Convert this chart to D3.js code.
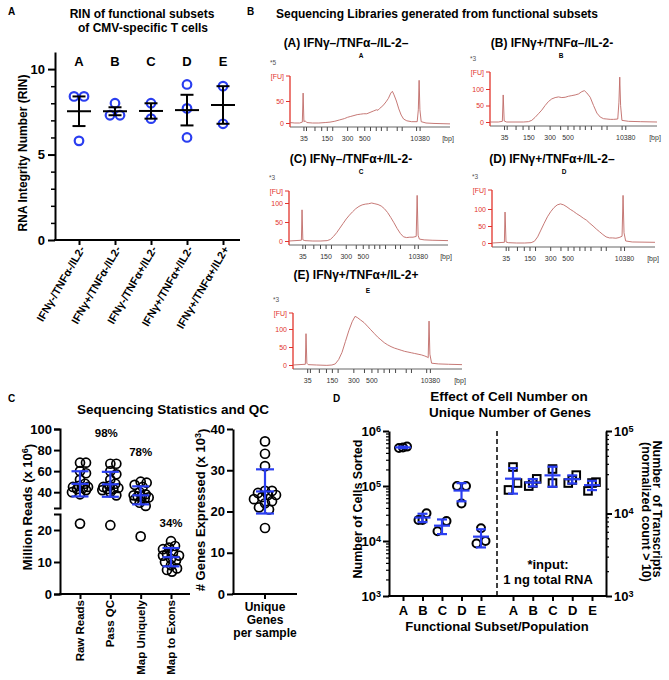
<!DOCTYPE html>
<html><head><meta charset="utf-8">
<script src="https://cdn.jsdelivr.net/npm/d3@7"></script>
<style>body{margin:0;background:#fff}svg{display:block}</style>
</head><body>
<svg id="c" width="669" height="680"></svg>
<script>
// ---------------- DATA ----------------
// Panel A
const rinCategories = ["IFNγ-/TNFα-/IL2-", "IFNγ+/TNFα-/IL2-", "IFNγ-/TNFα+/IL2-", "IFNγ+/TNFα+/IL2-", "IFNγ+/TNFα+/IL2+"];
const subsetLetters = ["A", "B", "C", "D", "E"];
const rinValues = [[8.4, 8.4, 5.8], [8.0, 7.3, 7.3], [8.0, 7.1], [9.1, 7.7, 6.0], [9.0, 6.8]];
const rinTicks = [0, 5, 10];

// Panel B (electropherograms): [migration position, FU]
const ladderBp = [35, 50, 75, 100, 150, 200, 300, 400, 500, 600, 700, 1000, 1500, 2000, 3000, 7000, 10380];
const ladderTime = [8.4, 10, 15.3, 19.5, 23, 26.4, 35.7, 42, 46.4, 50, 53.6, 56.8, 60.4, 66.7, 69.8, 78.8, 81];
const ladderLabeled = [35, 150, 300, 500, 10380];
const epTitles = ["(A) IFNγ–/TNFα–/IL-2–", "(B) IFNγ+/TNFα–/IL-2-", "(C) IFNγ–/TNFα+/IL-2-", "(D) IFNγ+/TNFα+/IL-2–", "(E) IFNγ+/TNFα+/IL-2+"];
const epMultipliers = ["*5", "*3", "*3", "*3", "*3"];
const traceA = [[0,1],[3,0],[6,0],[7.7,2],[8.2,68],[8.7,3],[9.5,5],[10.5,1],[14,0],[18,0],[22,1],[25,2],[28,4],[31,7],[34,10],[36,13],[38,15],[40,17],[42,19],[44,20],[46,21],[48,21],[50,24],[52,27],[54,30],[55,29],[56,33],[58,39],[60,48],[61.5,56],[63,68],[64,72],[65,64],[66.5,50],[68,32],[69.5,18],[71,9],[73,5],[76,3],[79.5,3],[80.2,30],[80.7,97],[81.2,30],[82,3],[85,0],[90,-1],[100,-2]];
const traceB = [[0,0],[5,0],[7.4,2],[7.9,82],[8.5,3],[10,0],[15,0],[20,0],[23,1],[25,5],[27,14],[29,25],[31,36],[33,50],[35,62],[37,70],[39,74],[41,76],[43,74],[45,75],[47,78],[49,80],[51,82],[53,85],[55,92],[56.5,95],[58,88],[60,75],[62,50],[64,27],[66,15],[68,10],[70,9],[72,8],[74,8],[76.5,9],[77.2,60],[77.7,136],[78.2,50],[79,5],[83,2],[90,1],[100,0]];
const traceC = [[0,0],[7.8,2],[8.2,82],[8.7,3],[10,1],[15,0],[20,0],[24,1],[26,4],[28,12],[30,22],[32,34],[34,46],[36,58],[38,68],[40,77],[42,85],[44,91],[46,95],[48,97],[50,98],[52,100],[54,98],[56,96],[58,92],[60,85],[62,75],[64,62],[66,48],[68,33],[70,20],[72,11],[74,9],[76,10],[78,10],[80,12],[80.6,120],[81.2,15],[82,5],[85,3],[90,2],[100,1]];
const traceD = [[0,0],[7.6,2],[8,91],[8.6,3],[10,1],[15,0],[20,0],[24,1],[26,5],[28,18],[30,38],[32,58],[34,77],[36,92],[38,104],[40,112],[42,115],[44,112],[46,106],[48,99],[50,93],[52,86],[54,80],[56,73],[58,67],[60,58],[62,50],[64,41],[66,33],[68,25],[70,18],[72,15],[74,15],[76,14],[78,16],[79.8,20],[80.4,140],[81,30],[82,6],[86,3],[100,2]];
const traceE = [[0,0],[7.3,2],[7.7,87],[8.2,5],[9,1],[14,0],[20,-1],[23,0],[25,3],[27,15],[29,35],[31,65],[33,95],[35,120],[36.7,135],[38,132],[40,125],[42,118],[44,108],[46,98],[48,88],[50,78],[52,70],[54,62],[56,56],[58,51],[60,47],[62,44],[64,41],[66,38],[68,36],[70,34],[72,32],[74,30],[76,28],[78,25],[79.5,22],[80,20],[80.5,122],[81,30],[82,5],[86,3],[92,2],[100,1]];
const epTraces = [traceA, traceB, traceC, traceD, traceE];

// Panel C
const qcCategories = ["Raw Reads", "Pass QC", "Map Uniquely", "Map to Exons"];
const rawReads = [68, 68, 60, 58, 52, 48, 46, 45, 45, 44, 43, 42, 40, 38, 22];
const passQC = [67, 67, 60, 57, 52, 48, 46, 45, 44, 43, 43, 42, 40, 37, 21.5];
const mapUniquely = [50, 49, 47, 45, 40, 38, 37, 36, 36, 35, 34, 33, 30, 27, 18];
const mapExons = [16.5, 15, 14.5, 14, 13, 12.5, 12, 12, 11, 10.5, 10, 9, 8, 7.5, 7];
const qcPercents = ["", "98%", "78%", "34%"];
const qcUpperTicks = [40, 60, 80, 100];
const qcLowerTicks = [0, 10, 20];
const genesCategory = ["Unique Genes per sample"];
const genesExpressed = [37, 34, 31, 25, 25, 24.5, 24, 24, 23.5, 23, 22.5, 22, 21, 20.5, 16];
const genesTicks = [0, 10, 20, 30, 40];

// Panel D
const cellsSorted = [[520000, 500000, 490000], [32000, 24000, 24000], [23000, 15000], [100000, 100000, 48000], [17000, 10000, 9000]];
const transcripts = [[36600, 23400, 19300], [26300, 23400, 21500], [34600, 23400], [29200, 25500, 23400], [24000, 23400, 18800]];
const cellTicks = [1e3, 1e4, 1e5, 1e6];
const transcriptTicks = [1e3, 1e4, 1e5];

// ---------------- HELPERS ----------------
const F = '"Liberation Sans", Arial, Helvetica, sans-serif';
const BLUE = "#2a3ef0";
const svg = d3.select("#c").attr("font-family", F);
svg.append("rect").attr("width", 669).attr("height", 680).attr("fill", "#fff");

function txt(g, x, y, s, o = {}) {
  const t = g.append("text").attr("x", x).attr("y", y).text(s)
    .attr("font-size", o.size || 12).attr("font-weight", o.weight || "bold")
    .attr("text-anchor", o.anchor || "middle").attr("fill", o.fill || "#000");
  if (o.transform) t.attr("transform", o.transform);
  return t;
}
function styleAxis(g, o = {}) {
  g.attr("font-family", F);
  g.selectAll("path,line").attr("stroke", o.color || "#000").attr("stroke-width", o.sw || 2);
  g.selectAll("text").attr("font-size", o.size || 13).attr("font-weight", o.weight || "bold").attr("fill", o.tcolor || "#000");
}
function rowsLayout(vals, yFn, thr, spFn) {
  const pts = vals.map(v => ({ v, y: yFn(v) })).sort((a, b) => a.y - b.y);
  const out = []; let row = [];
  function flush() {
    row.sort((a, b) => a.v - b.v);
    const sp = spFn(row.length);
    row.forEach((p, i) => { p.x = (i - (row.length - 1) / 2) * sp; out.push(p); });
    row = [];
  }
  pts.forEach(p => { if (row.length && p.y - row[0].y >= thr) flush(); row.push(p); });
  flush();
  return out;
}
// compact beeswarm limited to +/- maxOff
function swarm(vals, yFn, D, step, maxOff) {
  const pts = vals.map(v => ({ v, y: yFn(v) })).sort((a, b) => a.y - b.y);
  const placed = [];
  const cands = [0];
  for (let k = step; k <= maxOff + 1e-9; k += step) { cands.push(k, -k); }
  for (const p of pts) {
    let best = null, bestD = -1;
    for (const off of cands) {
      const md = placed.length ? d3.min(placed, q => Math.hypot(q.x - off, q.y - p.y)) : Infinity;
      if (md >= D) { best = off; break; }
      if (md > bestD) { bestD = md; best = off; }
    }
    p.x = best;
    placed.push(p);
  }
  return pts;
}
function errBar(g, cx, lo, mid, hi, capW, meanW, color, sw) {
  g.append("line").attr("x1", cx).attr("x2", cx).attr("y1", lo).attr("y2", hi).attr("stroke", color).attr("stroke-width", sw);
  [lo, hi].forEach(y => g.append("line").attr("x1", cx - capW / 2).attr("x2", cx + capW / 2).attr("y1", y).attr("y2", y).attr("stroke", color).attr("stroke-width", sw));
  g.append("line").attr("x1", cx - meanW / 2).attr("x2", cx + meanW / 2).attr("y1", mid).attr("y2", mid).attr("stroke", color).attr("stroke-width", sw);
}
function supText(t, base, exp, after) {
  t.text(null);
  t.append("tspan").text(base);
  t.append("tspan").attr("dy", "-0.45em").attr("font-size", "0.7em").text(exp);
  if (after) t.append("tspan").attr("dy", "0.45em").text(after);
}

// ---------------- PANEL LETTERS ----------------
txt(svg, 8, 15, "A", { size: 10, anchor: "start" });
txt(svg, 247, 15, "B", { size: 10, anchor: "start" });
txt(svg, 8, 402, "C", { size: 10, anchor: "start" });
txt(svg, 333, 402, "D", { size: 10, anchor: "start" });

// ---------------- PANEL A ----------------
{
  const g = svg.append("g");
  txt(g, 142, 18, "RIN of functional subsets", { size: 12 });
  txt(g, 143, 32, "of CMV-specific T cells", { size: 12 });
  const y = d3.scaleLinear([0, 11], [240, 52]);
  const x = d3.scalePoint(rinCategories, [79, 223]);
  const gyMinor = g.append("g").attr("transform", "translate(55,0)")
    .call(d3.axisLeft(y).tickValues(d3.range(1, 11).filter(v => v % 5)).tickSize(4).tickFormat(""));
  gyMinor.select(".domain").remove(); styleAxis(gyMinor, { sw: 1.5 });
  const gy = g.append("g").attr("transform", "translate(55,0)")
    .call(d3.axisLeft(y).tickValues(rinTicks).tickSize(7).tickSizeOuter(0).tickPadding(3));
  styleAxis(gy, { size: 13 });
  const gx = g.append("g").attr("transform", "translate(0,240)")
    .call(d3.axisBottom(x).tickSize(5).tickFormat(""));
  gx.select(".domain").remove(); styleAxis(gx);
  g.append("line").attr("x1", 54).attr("x2", 240).attr("y1", 240).attr("y2", 240).attr("stroke", "#000").attr("stroke-width", 2);
  rinCategories.forEach((c, i) => {
    txt(g, 0, 0, c, { size: 11, anchor: "end", transform: `translate(${x(c) + 3},${247}) rotate(-60)` }).attr("dy", "0.35em");
    txt(g, x(c), 66, subsetLetters[i], { size: 13 });
    const pts = rowsLayout(rinValues[i], y, 10, () => 10);
    g.selectAll(null).data(pts).join("circle").attr("cx", p => x(c) + p.x).attr("cy", p => p.y).attr("r", 4.3)
      .attr("fill", "none").attr("stroke", BLUE).attr("stroke-width", 2.2);
    const m = d3.mean(rinValues[i]), sem = d3.deviation(rinValues[i]) / Math.sqrt(rinValues[i].length);
    errBar(g, x(c), y(m - sem), y(m), y(m + sem), 13, 24, "#000", 2);
  });
  txt(g, 0, 0, "RNA Integrity Number (RIN)", { size: 12, transform: "translate(27,153) rotate(-90)" });
}

// ---------------- PANEL B ----------------
const epLayout = [
  { x0: 290, x1: 450, y0: 123, refVal: 50, yRef: 101, top: 76, ticks: [0, 50], sx: 346, sy: 47, lx: 361, ly: 58 },
  { x0: 490, x1: 657, y0: 122, refVal: 100, yRef: 89, top: 72, ticks: [0, 50, 100], sx: 552, sy: 47, lx: 561, ly: 58 },
  { x0: 289, x1: 448, y0: 241, refVal: 100, yRef: 203, top: 191, ticks: [0, 50, 100], sx: 351, sy: 163, lx: 361, ly: 174 },
  { x0: 492, x1: 655, y0: 243, refVal: 100, yRef: 209, top: 190, ticks: [0, 50, 100], sx: 552, sy: 163, lx: 564, ly: 174 },
  { x0: 293, x1: 462, y0: 365, refVal: 100, yRef: 329, top: 313, ticks: [0, 50, 100], sx: 356, sy: 279, lx: 368, ly: 293 }
];
txt(svg, 437, 18, "Sequencing Libraries generated from functional subsets", { size: 12 });
const RED = "#e2332b", TRACE = "#c06a66";
epLayout.forEach((L, i) => {
  const g = svg.append("g");
  const x = d3.scaleLinear([0, 100], [L.x0, L.x1]);
  const y = d3.scaleLinear([0, L.refVal], [L.y0, L.yRef]);
  const axY = L.y0 + 4;
  const gx = g.append("g").attr("transform", `translate(0,${axY})`)
    .call(d3.axisBottom(x).tickValues(ladderTime).tickSize(4).tickPadding(5)
      .tickFormat((d, j) => ladderLabeled.includes(ladderBp[j]) ? ladderBp[j] : ""));
  gx.select(".domain").remove();
  styleAxis(gx, { color: "#333", sw: 0.9, size: 7, weight: "normal", tcolor: "#333" });
  g.append("line").attr("x1", L.x0).attr("x2", L.x1).attr("y1", axY).attr("y2", axY).attr("stroke", "#555").attr("stroke-width", 0.9);
  txt(g, L.x1 - 2, axY + 14, "[bp]", { size: 7, weight: "normal", fill: "#333" });
  const gy = g.append("g").attr("transform", `translate(${L.x0},0)`)
    .call(d3.axisLeft(y).tickValues(L.ticks).tickSize(4).tickPadding(2));
  gy.select(".domain").remove();
  styleAxis(gy, { color: RED, sw: 1, size: 7, weight: "normal", tcolor: RED });
  g.append("line").attr("x1", L.x0).attr("x2", L.x0).attr("y1", L.top).attr("y2", axY).attr("stroke", RED).attr("stroke-width", 1.3);
  g.append("line").attr("x1", L.x0 - 4).attr("x2", L.x0).attr("y1", L.top).attr("y2", L.top).attr("stroke", RED).attr("stroke-width", 1);
  txt(g, L.x0 - 6, L.top + 2.5, "[FU]", { size: 7, weight: "normal", anchor: "end", fill: RED });
  txt(g, L.x0 - 20, L.top - 11, epMultipliers[i], { size: 6.5, weight: "normal", anchor: "start", fill: "#555" });
  g.append("path").datum(epTraces[i])
    .attr("d", d3.line().x(d => x(d[0])).y(d => y(d[1])))
    .attr("fill", "none").attr("stroke", TRACE).attr("stroke-width", 0.9);
  txt(g, L.sx, L.sy, epTitles[i], { size: 12 });
  txt(g, L.lx, L.ly, subsetLetters[i], { size: 6.5 });
});

// ---------------- PANEL C ----------------
{
  const g = svg.append("g");
  txt(g, 173, 414, "Sequencing Statistics and QC", { size: 13.5 });
  const x = d3.scalePoint(qcCategories, [80, 171]);
  const yU = d3.scaleLinear([25, 100], [508, 429]);
  const yL = d3.scaleLinear([0, 25], [594, 514]);
  const yC = v => v >= 25 ? yU(v) : yL(v);
  const gU = g.append("g").attr("transform", "translate(60,0)")
    .call(d3.axisLeft(yU).tickValues(qcUpperTicks).tickSize(6).tickSizeOuter(6).tickPadding(2));
  styleAxis(gU, { size: 13 });
  const gL = g.append("g").attr("transform", "translate(60,0)")
    .call(d3.axisLeft(yL).tickValues(qcLowerTicks).tickSize(6).tickSizeOuter(6).tickPadding(2));
  styleAxis(gL, { size: 13 });
  const gx = g.append("g").attr("transform", "translate(0,594)").call(d3.axisBottom(x).tickSize(5).tickFormat(""));
  gx.select(".domain").remove(); styleAxis(gx);
  g.append("line").attr("x1", 59).attr("x2", 190).attr("y1", 594).attr("y2", 594).attr("stroke", "#000").attr("stroke-width", 2);
  const series = [rawReads, passQC, mapUniquely, mapExons];
  qcCategories.forEach((c, i) => {
    const pts = swarm(series[i], yC, 6, 1, 8);
    g.selectAll(null).data(pts).join("circle").attr("cx", p => x(c) + p.x).attr("cy", p => p.y).attr("r", 4.5)
      .attr("fill", "none").attr("stroke", "#000").attr("stroke-width", 1.7);
    const m = d3.mean(series[i]), sd = d3.deviation(series[i]);
    errBar(g, x(c), yC(m - sd), yC(m), yC(m + sd), 17, 17, BLUE, 2.2);
    txt(g, 0, 0, c, { size: 11.5, anchor: "end", transform: `translate(${x(c) + 4},${600}) rotate(-90)` });
  });
  const pctY = [0, 437, 456, 527];
  qcPercents.forEach((p, i) => { if (p) txt(g, x(qcCategories[i]) - (i === 1 ? 4 : 0), pctY[i], p, { size: 11.5 }); });
  supText(txt(g, 0, 0, "", { size: 13, transform: "translate(32,507) rotate(-90)" }), "Million Reads (x 10", "6", ")");

  // genes
  const yG = d3.scaleLinear([0, 40], [594, 429]);
  const xG = d3.scaleBand(genesCategory, [233, 297]);
  const gy2 = g.append("g").attr("transform", "translate(233,0)")
    .call(d3.axisLeft(yG).tickValues(genesTicks).tickSize(6).tickSizeOuter(0).tickPadding(2));
  styleAxis(gy2, { size: 13 });
  const gx2 = g.append("g").attr("transform", "translate(0,594)").call(d3.axisBottom(xG).tickSize(5).tickFormat(""));
  gx2.select(".domain").remove(); styleAxis(gx2);
  g.append("line").attr("x1", 232).attr("x2", 297).attr("y1", 594).attr("y2", 594).attr("stroke", "#000").attr("stroke-width", 2);
  const cx = xG(genesCategory[0]) + xG.bandwidth() / 2;
  const gp = swarm(genesExpressed, yG, 7, 1, 11);
  g.selectAll(null).data(gp).join("circle").attr("cx", p => cx + p.x).attr("cy", p => p.y).attr("r", 4.5)
    .attr("fill", "none").attr("stroke", "#000").attr("stroke-width", 1.7);
  const gm = d3.mean(genesExpressed), gsd = d3.deviation(genesExpressed);
  errBar(g, cx, yG(gm - gsd), yG(gm), yG(gm + gsd), 18, 18, BLUE, 2.2);
  ["Unique", "Genes", "per sample"].forEach((w, i) => txt(g, cx, 611 + i * 13, w, { size: 12 }));
  supText(txt(g, 0, 0, "", { size: 13, transform: "translate(205,510) rotate(-90)" }), "# Genes Expressed (x 10", "3", ")");
}

// ---------------- PANEL D ----------------
{
  const g = svg.append("g");
  txt(g, 509, 401, "Effect of Cell Number on", { size: 13.5 });
  txt(g, 510, 417, "Unique Number of Genes", { size: 13.5 });
  const yL = d3.scaleLog([1e3, 1e6], [596, 431]);
  const yR = d3.scaleLog([1e3, 1e5], [596, 431]);
  const xL = d3.scalePoint(subsetLetters, [403, 481]);
  const xR = d3.scalePoint(subsetLetters, [513, 592]);
  const minorL = yL.ticks().filter(v => !cellTicks.includes(v));
  const minorR = yR.ticks().filter(v => !transcriptTicks.includes(v));
  const gmL = g.append("g").attr("transform", "translate(389,0)").call(d3.axisLeft(yL).tickValues(minorL).tickSize(3).tickFormat(""));
  gmL.select(".domain").remove(); styleAxis(gmL, { sw: 1.2 });
  const gL = g.append("g").attr("transform", "translate(389,0)").call(d3.axisLeft(yL).tickValues(cellTicks).tickSize(6).tickSizeOuter(0).tickPadding(2));
  styleAxis(gL, { size: 13 });
  gL.selectAll(".tick text").each(function (d) { supText(d3.select(this), "10", Math.round(Math.log10(d))); });
  const gmR = g.append("g").attr("transform", "translate(606,0)").call(d3.axisRight(yR).tickValues(minorR).tickSize(3).tickFormat(""));
  gmR.select(".domain").remove(); styleAxis(gmR, { sw: 1.2 });
  const gR = g.append("g").attr("transform", "translate(606,0)").call(d3.axisRight(yR).tickValues(transcriptTicks).tickSize(6).tickSizeOuter(0).tickPadding(2));
  styleAxis(gR, { size: 13 });
  gR.selectAll(".tick text").each(function (d) { supText(d3.select(this), "10", Math.round(Math.log10(d))); });
  const gxl = g.append("g").attr("transform", "translate(0,596)").call(d3.axisBottom(xL).tickSize(5).tickPadding(5));
  gxl.select(".domain").remove(); styleAxis(gxl, { size: 13 });
  const gxr = g.append("g").attr("transform", "translate(0,596)").call(d3.axisBottom(xR).tickSize(5).tickPadding(5));
  gxr.select(".domain").remove(); styleAxis(gxr, { size: 13 });
  g.append("line").attr("x1", 388).attr("x2", 607).attr("y1", 596).attr("y2", 596).attr("stroke", "#000").attr("stroke-width", 2);
  g.append("line").attr("x1", 497).attr("x2", 497).attr("y1", 431).attr("y2", 596).attr("stroke", "#000").attr("stroke-width", 1.5).attr("stroke-dasharray", "5,3");
  const sp = n => n >= 3 ? 4 : 9;
  subsetLetters.forEach((c, i) => {
    const pts = rowsLayout(cellsSorted[i], yL, 12, sp);
    g.selectAll(null).data(pts).join("circle").attr("cx", p => xL(c) + p.x).attr("cy", p => p.y).attr("r", 4)
      .attr("fill", "none").attr("stroke", "#000").attr("stroke-width", 2);
    const m = d3.mean(cellsSorted[i]), sd = d3.deviation(cellsSorted[i]);
    errBar(g, xL(c), yL(m - sd), yL(m), yL(m + sd), 10, 16, BLUE, 2.2);
    const sq = rowsLayout(transcripts[i], yR, 12, sp);
    g.selectAll(null).data(sq).join("rect").attr("x", p => xR(c) + p.x - 3.8).attr("y", p => p.y - 3.8)
      .attr("width", 7.6).attr("height", 7.6).attr("fill", "none").attr("stroke", "#000").attr("stroke-width", 2);
    const m2 = d3.mean(transcripts[i]), sd2 = d3.deviation(transcripts[i]);
    errBar(g, xR(c), yR(m2 - sd2), yR(m2), yR(m2 + sd2), 10, 16, BLUE, 2.2);
  });
  txt(g, 548, 569, "*input:", { size: 13 });
  txt(g, 548, 584, "1 ng total RNA", { size: 13 });
  txt(g, 497, 631, "Functional Subset/Population", { size: 13 });
  txt(g, 0, 0, "Number of Cells Sorted", { size: 12.5, transform: "translate(362,509) rotate(-90)" });
  txt(g, 0, 0, "Number  of Transcripts", { size: 12.5, transform: "translate(653,509) rotate(90)" }).style("white-space", "pre");
  txt(g, 0, 0, "(normalized count > 10)", { size: 12.5, transform: "translate(642,512) rotate(90)" });
}
</script>
</body></html>
